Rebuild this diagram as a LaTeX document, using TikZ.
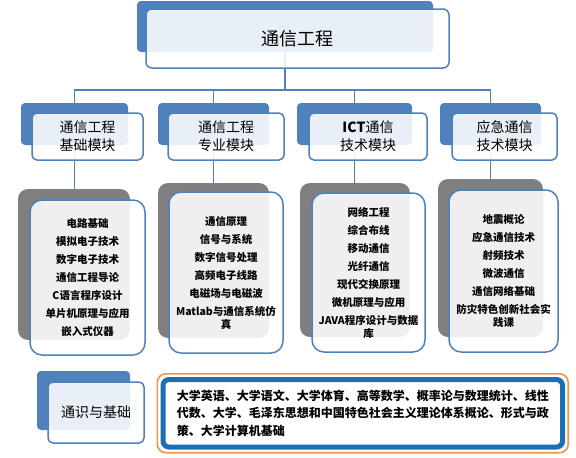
\documentclass[tikz,border=0pt]{standalone}
\usepackage{fontspec}
\setmainfont{Noto Sans CJK SC}
\pgfdeclarelayer{bg}
\pgfsetlayers{bg,main}
\definecolor{boxblue}{RGB}{79,129,189}
\definecolor{boxgray}{RGB}{127,127,127}
\definecolor{rimblue}{RGB}{30,110,180}
\definecolor{rimorange}{RGB}{238,150,75}
\newcommand{\itemgap}{\\[5pt]}
\begin{document}
\begin{tikzpicture}[
  x=1pt, y=-1pt,
  backbox/.style={rectangle, rounded corners=4pt, fill=boxblue, inner sep=0pt, outer sep=0pt},
  grayback/.style={backbox, fill=boxgray, rounded corners=10pt},
  frontbox/.style={rectangle, rounded corners=5pt, draw=boxblue, line width=1.5pt, fill=white,
    fill opacity=0.88, text opacity=1, inner sep=0pt, outer sep=0pt, align=center},
  listbox/.style={frontbox, rounded corners=12pt, font=\fontsize{10.5}{13}\selectfont\bfseries},
  modfont/.style={font=\fontsize{14}{18}\selectfont},
  link/.style={draw=boxblue, line width=1.6pt}
]
  \useasboundingbox (0,0) rectangle (576,458);

  % Titulo
  \node[backbox, minimum width=296pt, minimum height=51pt] (topb) at (285,26.5) {};
  \node[frontbox, rounded corners=6pt, minimum width=303pt, minimum height=59pt,
    font=\fontsize{18}{22}\selectfont] (topf) at (297.5,38.5) {通信工程};
  \coordinate (hub) at (285,90);

  % Modulos
  \node[backbox, minimum width=107pt, minimum height=42pt] (mod1b) at (74.5,124) {};
  \node[backbox, minimum width=111pt, minimum height=42pt] (mod2b) at (213.5,124) {};
  \node[backbox, minimum width=115pt, minimum height=42pt] (mod3b) at (354.5,124) {};
  \node[backbox, minimum width=101pt, minimum height=42pt] (mod4b) at (490.5,124) {};
  \node[frontbox, modfont, minimum width=111pt, minimum height=47pt] (mod1f) at (87.5,136.5) {通信工程\\基础模块};
  \node[frontbox, modfont, minimum width=116pt, minimum height=47pt] (mod2f) at (226,136.5) {通信工程\\专业模块};
  \node[frontbox, modfont, minimum width=118pt, minimum height=47pt] (mod3f) at (368,136.5) {\textbf{ICT}通信\\技术模块};
  \node[frontbox, modfont, minimum width=105pt, minimum height=47pt] (mod4f) at (504.5,136.5) {应急通信\\技术模块};

  % Cursos
  \node[grayback, minimum width=112pt, minimum height=151pt] (list1b) at (74,264.5) {};
  \node[grayback, minimum width=111pt, minimum height=155pt] (list2b) at (213.5,260.5) {};
  \node[grayback, minimum width=110pt, minimum height=154pt] (list3b) at (355,260) {};
  \node[grayback, minimum width=105pt, minimum height=158pt] (list4b) at (490.5,258) {};
  \node[listbox, minimum width=115pt, minimum height=155pt] (list1f) at (87.5,277.5)
    {电路基础\itemgap 模拟电子技术\itemgap 数字电子技术\itemgap 通信工程导论\itemgap
     C语言程序设计\itemgap 单片机原理与应用\itemgap 嵌入式仪器};
  \node[listbox, minimum width=114pt, minimum height=161pt] (list2f) at (226,272.5)
    {通信原理\itemgap 信号与系统\itemgap 数字信号处理\itemgap 高频电子线路\itemgap
     电磁场与电磁波\itemgap Matlab与通信系统仿\\真};
  \node[listbox, minimum width=113pt, minimum height=159pt] (list3f) at (368.5,272.5)
    {网络工程\itemgap 综合布线\itemgap 移动通信\itemgap 光纤通信\itemgap 现代交换原理\itemgap
     微机原理与应用\itemgap JAVA程序设计与数据\\库};
  \node[listbox, minimum width=109pt, minimum height=162pt] (list4f) at (503.5,271)
    {地震概论\itemgap 应急通信技术\itemgap 射频技术\itemgap 微波通信\itemgap 通信网络基础\itemgap
     防灾特色创新社会实\\践课};

  % Basicos
  \node[backbox, minimum width=93pt, minimum height=59pt] (baseb) at (83.5,400.5) {};
  \node[frontbox, modfont, minimum width=96pt, minimum height=61pt] (basef) at (96,412.5) {通识与基础};
  \node[rectangle, rounded corners=6pt, draw=rimblue, line width=5pt, fill=white,
    minimum width=399.5pt, minimum height=67.5pt, inner sep=0pt,
    text width=372pt, align=left, font=\fontsize{12}{17.5}\selectfont\bfseries] (courses) at (362.75,413.25)
    {大学英语、大学语文、大学体育、高等数学、概率论与数理统计、线性\\
     代数、大学、毛泽东思想和中国特色社会主义理论体系概论、形式与政\\
     策、大学计算机基础};
  \draw[rimorange, line width=1.6pt, rounded corners=8.5pt]
    ([shift={(-3.2pt,3.2pt)}]courses.north west) rectangle ([shift={(3.2pt,-3.2pt)}]courses.south east);

  % Conexiones
  \begin{pgfonlayer}{bg}
    \draw[link] (topb.south) -- (hub);
    \draw[link] (mod1b.north) |- (hub) -| (mod4b.north);
    \draw[link] (mod2b.north) -- (mod2b.north |- hub);
    \draw[link] (mod3b.north) -- (mod3b.north |- hub);
    \foreach \i in {1,...,4} {
      \draw[link] (mod\i b.south) -- (mod\i b.south |- list\i b.north);
    }
  \end{pgfonlayer}
\end{tikzpicture}
\end{document}
